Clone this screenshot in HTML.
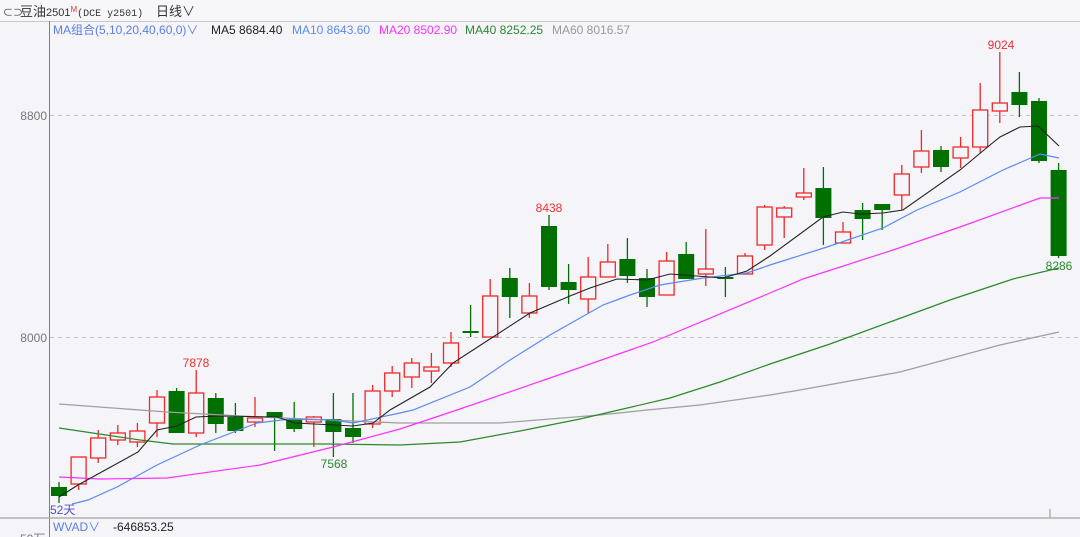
<!DOCTYPE html>
<html><head><meta charset="utf-8"><style>
body{margin:0;width:1080px;height:537px;overflow:hidden;background:#f4f4f9;font-family:"Liberation Sans","Noto Sans CJK SC",sans-serif;}
</style></head><body>
<svg id="s" width="1080" height="537" xmlns="http://www.w3.org/2000/svg" style="position:absolute;left:0;top:0">
<rect x="0" y="0" width="1080" height="21" fill="#f7f7fa"/>
<line x1="0" y1="21.5" x2="1080" y2="21.5" stroke="#c8c8c8"/>
<line x1="49.5" y1="21" x2="49.5" y2="537" stroke="#808080"/>
<line x1="50" y1="115.5" x2="1080" y2="115.5" stroke="#c4c4c4" stroke-dasharray="4,4"/>
<line x1="50" y1="337.5" x2="1080" y2="337.5" stroke="#c4c4c4" stroke-dasharray="4,4"/>
<line x1="0" y1="518" x2="1080" y2="518" stroke="#b0b0b0" stroke-width="1.5"/>
<line x1="1050" y1="509" x2="1050" y2="518" stroke="#b0b0b0" stroke-width="1.5"/>
<text x="47" y="120" font-size="12" fill="#777" text-anchor="end">8800</text>
<text x="47" y="342" font-size="12" fill="#777" text-anchor="end">8000</text>
<text x="3" y="16" font-size="10" fill="#333">⊂⊃</text>
<text x="20" y="16" font-size="13" fill="#333">豆油<tspan font-size="11">2501</tspan><tspan font-size="8" fill="#e33" dy="-4">M</tspan><tspan font-size="10" dy="4" font-family="Liberation Mono,monospace">(DCE y2501)</tspan></text>
<text x="156" y="16" font-size="13" fill="#333">日线∨</text>
<text x="53" y="34" font-size="12" fill="#5b7fe0">MA组合(5,10,20,40,60,0)∨</text>
<text x="211" y="34" font-size="12" fill="#222">MA5 8684.40</text>
<text x="292" y="34" font-size="12" fill="#5b8bf0">MA10 8643.60</text>
<text x="379" y="34" font-size="12" fill="#ff30ff">MA20 8502.90</text>
<text x="465" y="34" font-size="12" fill="#2a8a2a">MA40 8252.25</text>
<text x="552" y="34" font-size="12" fill="#999">MA60 8016.57</text>
<g id="c"></g>
<polyline fill="none" stroke="#a0a0a0" stroke-width="1.3" points="59,404 167,412 260,417 400,423 500,423 600,415 647,410 700,405 770,395 800,390 900,372 1000,345 1059,332"/>
<polyline fill="none" stroke="#2a8a2a" stroke-width="1.2" points="59,428 140,440 173,444 327,444 400,445 460,442 520,431 580,419 623,409 670,398 720,382 770,364 830,344 890,322 950,300 1013,279 1059,268"/>
<polyline fill="none" stroke="#ff30ff" stroke-width="1.2" points="59,477 100,479 167,478 260,465 333,447 400,429 457,410 550,378 653,342 770,293 803,279 893,250 960,227 1040,198 1059,198"/>
<polyline fill="none" stroke="#5b8bf0" stroke-width="1.2" points="72,504 88,500 117,487 157,465 200,445 257,423 290,419 333,420 353,423 400,413 413,410 470,387 510,360 550,335 603,305 630,295 660,285 703,278 747,273 770,265 827,247 883,228 917,210 960,192 1003,170 1040,154 1059,158"/>
<polyline fill="none" stroke="#222" stroke-width="1.1" points="59,497 78,485 138,452 157,430 177,426 196,417 217,416 277,417 295,423 353,426 373,423 390,410 430,387 453,363 493,337 530,313 570,296 590,288 617,279 647,280 670,274 723,278 747,271 770,256 823,217 843,212 860,214 883,213 903,210 960,170 990,145 1000,137 1020,127 1038,126 1059,146"/>
<text x="196" y="367" font-size="12" fill="#ee3030" text-anchor="middle">7878</text>
<text x="549" y="212" font-size="12" fill="#ee3030" text-anchor="middle">8438</text>
<text x="1001" y="49" font-size="12" fill="#ee3030" text-anchor="middle">9024</text>
<text x="334" y="468" font-size="12" fill="#2a8a2a" text-anchor="middle">7568</text>
<text x="1059" y="270" font-size="12" fill="#2a8a2a" text-anchor="middle">8286</text>
<text x="50" y="514" font-size="12" fill="#5050c0">52天</text>
<text x="53" y="531" font-size="12" fill="#5b7fe0">WVAD∨</text>
<text x="113" y="531" font-size="12" fill="#222">-646853.25</text>
<text x="20" y="543" font-size="12" fill="#777">50万</text>
</svg>
<script>
var d=[["g",487,496,482,503],["r",457,484,457,490],["r",438,458,430,463],["r",433,440,425,445],["r",431,442,423,447],["r",397,423,390,437],["g",391,433,388,433],["r",393,433,370,437],["g",398,424,393,433],["g",417,431,403,433],["r",418,422,397,427],["g",412,418,412,451],["g",419,429,402,432],["r",417,422,416,447],["g",419,432,393,457],["g",428,437,393,443],["r",391,424,385,428],["r",373,391,366,397],["r",363,377,358,388],["r",367,371,353,383],["r",343,363,332,367],["g",331,333,305,337],["r",296,337,279,337],["g",278,297,268,318],["r",296,313,283,318],["g",226,287,215,290],["g",282,290,264,304],["r",277,299,257,313],["r",262,277,244,277],["g",259,276,238,283],["g",278,297,269,307],["r",261,295,252,295],["g",254,279,242,279],["r",269,274,229,286],["g",277,279,267,297],["r",256,274,253,274],["r",207,245,205,250],["r",208,217,206,238],["r",193,197,168,200],["g",188,218,167,245],["r",232,243,222,243],["g",210,219,203,240],["g",204,210,204,230],["r",174,195,165,210],["r",151,167,130,173],["g",150,167,146,172],["r",147,158,137,168],["r",110,147,83,153],["r",103,111,52,123],["g",92,105,72,117],["g",101,161,98,163],["g",170,256,163,258]];
var h="";
d.forEach(function(c,i){var x=59+19.6*i;var col=c[0]=="g"?"#007000":"#f02828";
h+='<line x1="'+x+'" y1="'+c[3]+'" x2="'+x+'" y2="'+c[4]+'" stroke="'+col+'" stroke-width="1.3"/>';
if(c[0]=="g")h+='<rect x="'+(x-8)+'" y="'+c[1]+'" width="16" height="'+Math.max(2,c[2]-c[1])+'" fill="#007000"/>';
else h+='<rect x="'+(x-7.5)+'" y="'+c[1]+'" width="15" height="'+Math.max(2,c[2]-c[1])+'" fill="#f4f4f9" stroke="#f02828" stroke-width="1.3"/>';});
document.getElementById("c").innerHTML=h;
</script>
</body></html>
